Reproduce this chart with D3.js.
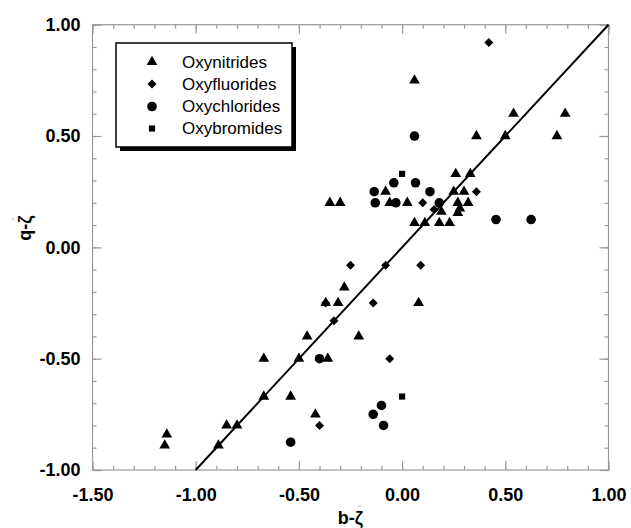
<!DOCTYPE html>
<html>
<head>
<meta charset="utf-8">
<script src="https://cdn.jsdelivr.net/npm/d3@7"></script>
<style>
  body { margin: 0; background: #fff; }
  svg text { font-family: Arial, "Liberation Sans", sans-serif; }
</style>
</head>
<body>
<svg id="chart" width="631" height="528"></svg>
<script>
// data, [b-zeta, q-zeta]
var oxynitrides = [
  [-1.15, -0.89], [-1.14, -0.84], [-0.89, -0.89], [-0.85, -0.80], [-0.80, -0.80],
  [-0.67, -0.67], [-0.54, -0.67], [-0.42, -0.75], [-0.67, -0.50], [-0.50, -0.50],
  [-0.36, -0.50], [-0.46, -0.40], [-0.21, -0.40], [-0.28, -0.18], [-0.37, -0.25],
  [-0.31, -0.25], [0.08, -0.25], [-0.35, 0.20], [-0.30, 0.20], [-0.08, 0.25],
  [-0.06, 0.20], [0.025, 0.20], [0.06, 0.11], [0.11, 0.11], [0.18, 0.11],
  [0.23, 0.11], [0.19, 0.16], [0.27, 0.155], [0.28, 0.175], [0.27, 0.20],
  [0.32, 0.20], [0.25, 0.25], [0.30, 0.25], [0.26, 0.33], [0.33, 0.33],
  [0.06, 0.75], [0.36, 0.50], [0.50, 0.50], [0.75, 0.50], [0.54, 0.60], [0.79, 0.60]
];
var oxyfluorides = [
  [0.42, 0.92], [0.36, 0.25], [0.10, 0.20], [0.155, 0.17], [-0.25, -0.08],
  [-0.08, -0.08], [0.09, -0.08], [-0.37, -0.25], [-0.14, -0.25], [-0.33, -0.33],
  [-0.06, -0.50], [-0.40, -0.80]
];
var oxychlorides = [
  [0.06, 0.50], [-0.04, 0.29], [0.065, 0.29], [-0.135, 0.25], [0.135, 0.25],
  [-0.13, 0.20], [-0.03, 0.20], [0.18, 0.20], [0.455, 0.125], [0.625, 0.125],
  [-0.40, -0.50], [-0.10, -0.71], [-0.14, -0.75], [-0.09, -0.80], [-0.54, -0.875]
];
var oxybromides = [[0.00, 0.33], [0.00, -0.67]];

var seriesNames = ['Oxynitrides', 'Oxyfluorides', 'Oxychlorides', 'Oxybromides'];
var xTicks = [-1.5, -1.0, -0.5, 0.0, 0.5, 1.0];
var yTicks = [-1.0, -0.5, 0.0, 0.5, 1.0];
var xTitle = ['b-', '\u03B6'];
var yTitle = ['q-', '\u03B6'];

var svg = d3.select('#chart');
var plotLeft = 92.5, plotRight = 608.5, plotTop = 24.7, plotBottom = 470;
var x = d3.scaleLinear().domain([-1.5, 1]).range([plotLeft, plotRight]);
var y = d3.scaleLinear().domain([-1, 1]).range([plotBottom, plotTop]);
var grey = '#9a9a9a';
var fmt = function (d) { return d.toFixed(2); };
var minorX = d3.range(-15, 11).map(function (d) { return d / 10; });
var minorY = d3.range(-10, 11).map(function (d) { return d / 10; });

//frame
svg.append('rect')
  .attr('x', plotLeft).attr('y', plotTop)
  .attr('width', plotRight - plotLeft).attr('height', plotBottom - plotTop)
  .attr('fill', 'none').attr('stroke', grey).attr('stroke-width', 1.2);

//axes, ticks pointing inward on all four sides
function styleAxis(g) {
  g.select('.domain').remove();
  g.selectAll('line').attr('stroke', grey).attr('stroke-width', 1.2);
  g.selectAll('text')
    .attr('fill', '#000')
    .style('font-size', '18px')
    .style('font-weight', 'bold');
}
function addAxis(axis, tx, ty) {
  svg.append('g').attr('transform', 'translate(' + tx + ',' + ty + ')').call(axis).call(styleAxis);
}
addAxis(d3.axisBottom(x).tickValues(minorX).tickSizeInner(-4).tickSizeOuter(0).tickFormat(''), 0, plotBottom);
addAxis(d3.axisBottom(x).tickValues(xTicks).tickSizeInner(-9).tickSizeOuter(0).tickPadding(18).tickFormat(fmt), 0, plotBottom);
addAxis(d3.axisTop(x).tickValues(minorX).tickSizeInner(-4).tickSizeOuter(0).tickFormat(''), 0, plotTop);
addAxis(d3.axisTop(x).tickValues(xTicks).tickSizeInner(-9).tickSizeOuter(0).tickFormat(''), 0, plotTop);
addAxis(d3.axisLeft(y).tickValues(minorY).tickSizeInner(-4).tickSizeOuter(0).tickFormat(''), plotLeft, 0);
addAxis(d3.axisLeft(y).tickValues(yTicks).tickSizeInner(-9).tickSizeOuter(0).tickPadding(12).tickFormat(fmt), plotLeft, 0);
addAxis(d3.axisRight(y).tickValues(minorY).tickSizeInner(-4).tickSizeOuter(0).tickFormat(''), plotRight, 0);
addAxis(d3.axisRight(y).tickValues(yTicks).tickSizeInner(-9).tickSizeOuter(0).tickFormat(''), plotRight, 0);

//axis titles, zeta with a small bar over it
function axisTitle(parts, transform) {
  var t = svg.append('text')
    .attr('transform', transform)
    .attr('text-anchor', 'middle')
    .style('font-size', '18px').style('font-weight', 'bold');
  t.append('tspan').text(parts[0]);
  var z = t.append('tspan').text(parts[1]);
  // bar above zeta
  var bb = z.node().getBBox();
  svg.append('line')
    .attr('transform', transform)
    .attr('x1', bb.x + bb.width * 0.35).attr('x2', bb.x + bb.width * 0.75)
    .attr('y1', bb.y - 2).attr('y2', bb.y - 2)
    .attr('stroke', '#bbb').attr('stroke-width', 1);
}
axisTitle(xTitle, 'translate(' + ((plotLeft + plotRight) / 2) + ',524)');
axisTitle(yTitle, 'translate(31,228) rotate(-90)');

//y = x line
var line = d3.line().x(function (d) { return x(d); }).y(function (d) { return y(d); });
svg.append('path')
  .attr('d', line([-1, 1]))
  .attr('fill', 'none').attr('stroke', '#000').attr('stroke-width', 2);

//markers
var markers = [
  { data: oxynitrides, sym: d3.symbol().type(d3.symbolTriangle).size(50), rot: 0 },
  { data: oxyfluorides, sym: d3.symbol().type(d3.symbolSquare).size(40), rot: 45 },
  { data: oxychlorides, sym: d3.symbol().type(d3.symbolCircle).size(72), rot: 0 },
  { data: oxybromides, sym: d3.symbol().type(d3.symbolSquare).size(38), rot: 0 }
];
markers.forEach(function (m) {
  svg.append('g').selectAll('path')
    .data(m.data).enter()
    .append('path')
    .attr('d', m.sym())
    .attr('transform', function (d) {
      return 'translate(' + x(d[0]) + ',' + y(d[1]) + ') rotate(' + m.rot + ')';
    })
    .attr('fill', '#000');
});

//legend
var lg = svg.append('g');
lg.append('rect').attr('x', 120).attr('y', 47).attr('width', 176).attr('height', 104).attr('fill', '#000');
lg.append('rect').attr('x', 116).attr('y', 43).attr('width', 176).attr('height', 104)
  .attr('fill', '#fff').attr('stroke', '#000').attr('stroke-width', 1.5);
var rowY = [62, 84, 106.5, 128.5];
markers.forEach(function (m, i) {
  lg.append('path')
    .attr('d', m.sym())
    .attr('transform', 'translate(152,' + rowY[i] + ') rotate(' + m.rot + ')')
    .attr('fill', '#000');
  lg.append('text')
    .attr('x', 182).attr('y', rowY[i]).attr('dy', '.35em')
    .style('font-size', '17px')
    .text(seriesNames[i]);
});
</script>
</body>
</html>
